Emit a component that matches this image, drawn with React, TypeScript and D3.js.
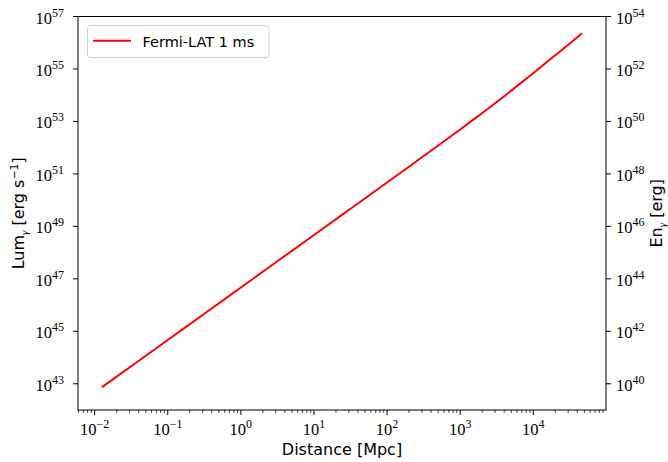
import React from "react";
import * as d3 from "d3";

// Data (log10 values)
const logDistance = [-1.9, -1.5, -1, -0.5, 0, 0.5, 1, 1.5, 2, 2.5, 3, 3.25, 3.5, 3.75, 4, 4.3, 4.5, 4.667];
const logLuminosity = [42.87, 43.67, 44.67, 45.67, 46.67, 47.67, 48.67, 49.67, 50.67, 51.68, 52.69, 53.21, 53.74, 54.29, 54.84, 55.52, 55.97, 56.36];
const seriesName = "Fermi-LAT 1 ms";
const xTickExps = [-2, -1, 0, 1, 2, 3, 4];
const yLeftTickExps = [43, 45, 47, 49, 51, 53, 55, 57];
const yRightTickExps = [40, 42, 44, 46, 48, 50, 52, 54];
const energyOffset = -3; // 1 ms integration

const W = 668, H = 462;
const L = 78, R = 606, T = 16.5, B = 410;

const x = d3.scaleLog().domain([Math.pow(10, -2.228), Math.pow(10, 4.995)]).range([L, R]);
const yL = d3.scaleLog().domain([1e42, 1e57]).range([B, T]);
const yR = d3.scaleLog().domain([1e42, 1e57].map(v => v * Math.pow(10, energyOffset))).range([B, T]);

const serif = "'Liberation Serif', 'DejaVu Serif', serif";
const sans = "'DejaVu Sans', sans-serif";

function Pow({ x0, y0, exp, anchor }: { x0: number; y0: number; exp: number; anchor: string }) {
  const e = exp < 0 ? "\u2212" + Math.abs(exp) : String(exp);
  return (
    <text x={x0} y={y0} fontFamily={serif} fontSize={16.5} textAnchor={anchor} fill="#000">
      10<tspan dy={-7} fontSize={12}>{e}</tspan>
    </text>
  );
}

export default function App() {
  const pts = logDistance.map((d, i) => [Math.pow(10, d), Math.pow(10, logLuminosity[i])] as [number, number]);
  const line = d3.line<[number, number]>().x(p => x(p[0])).y(p => yL(p[1])).curve(d3.curveMonotoneX);

  const minor: number[] = [];
  const [dx0, dx1] = x.domain();
  for (let e = -3; e <= 5; e++) {
    for (let m = 2; m <= 9; m++) {
      const v = m * Math.pow(10, e);
      if (v >= dx0 && v <= dx1) minor.push(v);
    }
  }

  return (
    <svg width={W} height={H} style={{ position: "absolute", left: 0, top: 0, background: "#fff" }}>
      <rect x={0} y={0} width={W} height={H} fill="#fff" />
      <path d={line(pts) || ""} fill="none" stroke="#ff0000" strokeWidth={2} />
      {/* spines */}
      <rect x={L} y={T} width={R - L} height={B - T} fill="none" stroke="#000" strokeWidth={1} />
      {/* x ticks */}
      {xTickExps.map(e => {
        const px = x(Math.pow(10, e));
        return (
          <g key={"x" + e}>
            <line x1={px} x2={px} y1={B} y2={B + 5} stroke="#000" strokeWidth={1} />
            <Pow x0={px} y0={435} exp={e} anchor="middle" />
          </g>
        );
      })}
      {minor.map((v, i) => (
        <line key={"m" + i} x1={x(v)} x2={x(v)} y1={B} y2={B + 2.8} stroke="#000" strokeWidth={0.8} />
      ))}
      {/* left ticks */}
      {yLeftTickExps.map(e => {
        const py = yL(Math.pow(10, e));
        return (
          <g key={"l" + e}>
            <line x1={L - 5} x2={L} y1={py} y2={py} stroke="#000" strokeWidth={1} />
            <Pow x0={64} y0={py + 7} exp={e} anchor="end" />
          </g>
        );
      })}
      {/* right ticks */}
      {yRightTickExps.map(e => {
        const py = yR(Math.pow(10, e));
        return (
          <g key={"r" + e}>
            <line x1={R} x2={R + 5} y1={py} y2={py} stroke="#000" strokeWidth={1} />
            <Pow x0={616} y0={py + 7} exp={e} anchor="start" />
          </g>
        );
      })}
      {/* axis labels */}
      <text x={(L + R) / 2} y={455} textAnchor="middle" fontFamily={sans} fontSize={16} fill="#000">
        Distance [Mpc]
      </text>
      <text transform={`translate(24,${(T + B) / 2}) rotate(-90)`} textAnchor="middle" fontFamily={sans} fontSize={16} fill="#000">
        Lum<tspan dy={4} fontSize={11} fontFamily={serif} fontStyle="italic">γ</tspan>
        <tspan dy={-4}> [erg s</tspan>
        <tspan dy={-6} fontSize={11}>−1</tspan>
        <tspan dy={6}>]</tspan>
      </text>
      <text transform={`translate(662,${(T + B) / 2}) rotate(-90)`} textAnchor="middle" fontFamily={sans} fontSize={16} fill="#000">
        En<tspan dy={4} fontSize={11} fontFamily={serif} fontStyle="italic">γ</tspan>
        <tspan dy={-4}> [erg]</tspan>
      </text>
      {/* legend */}
      <rect x={87.5} y={25.5} width={181.5} height={32} rx={3} fill="#fff" fillOpacity={0.8} stroke="#d0d0d0" strokeWidth={1} />
      <line x1={93} x2={131} y1={40.7} y2={40.7} stroke="#ff0000" strokeWidth={2} />
      <text x={142.5} y={46.5} fontFamily={sans} fontSize={14.5} fill="#000">{seriesName}</text>
    </svg>
  );
}
